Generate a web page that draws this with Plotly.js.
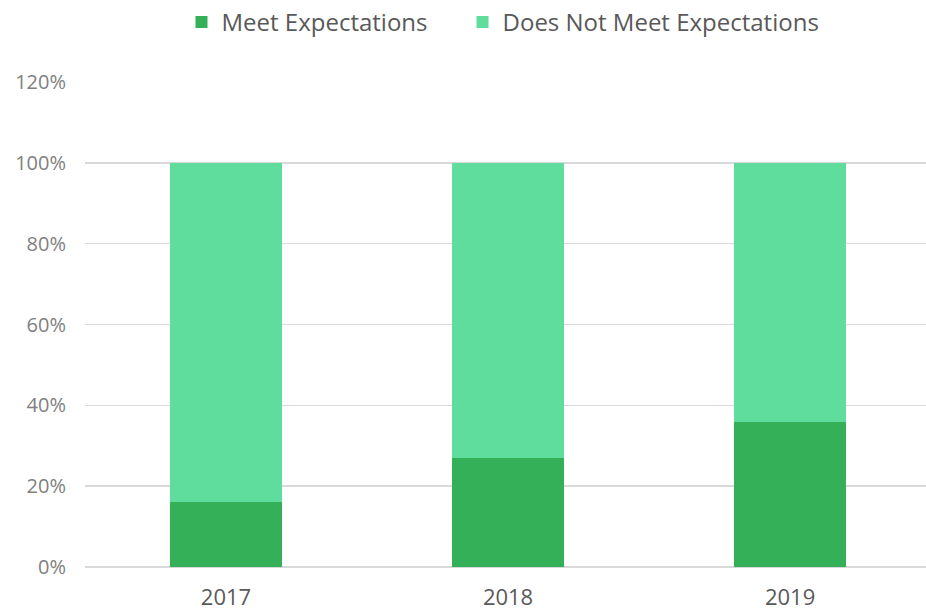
<!DOCTYPE html>
<html><head><meta charset="utf-8">
<script src="https://cdn.plot.ly/plotly-3.0.1.min.js"></script>
<style>html,body{margin:0;padding:0;background:#fff}#chart{width:926px;height:614px}</style>
</head><body><div id="chart"></div>
<script>
const years = ['2017', '2018', '2019'];
const meet = [0.16, 0.27, 0.36];
const notMeet = [0.84, 0.73, 0.64];
const yTicks = [0, 0.2, 0.4, 0.6, 0.8, 1.0, 1.2];
const yTickText = ['0%', '20%', '40%', '60%', '80%', '100%', '120%'];

const data = [
  {type:'bar', name:'Meet Expectations', x: years, y: meet, marker:{color:'#33b058'}, legend: 'legend'},
  {type:'bar', name:'Does Not Meet Expectations', x: years, y: notMeet, marker:{color:'#5fdd9d'}, legend: 'legend2'}
];
const legendBase = {orientation: 'h', xref: 'container', yref: 'container', xanchor: 'left', y: 1, yanchor: 'top',
                    font: {size: 24, color: '#595959'}, itemwidth: 30};
const layout = {
  width: 926, height: 614,
  margin: {l: 85, r: 0, t: 82, b: 47},
  barmode: 'stack', bargap: 0.6,
  paper_bgcolor: '#fff', plot_bgcolor: '#fff',
  font: {family: 'Open Sans, sans-serif', color: '#595959'},
  showlegend: true,
  legend: Object.assign({}, legendBase, {x: 0.196}),
  legend2: Object.assign({}, legendBase, {x: 0.4995}),
  xaxis: {type: 'category', range: [-0.5, 2.482], showgrid: false, zeroline: false, showline: false, ticks: '',
          tickfont: {size: 22, color: '#595959'}, ticklabelstandoff: 15},
  yaxis: {range: [0, 1.2], tickvals: yTicks, ticktext: yTickText, showgrid: true, gridcolor: '#d9d9d9', gridwidth: 1.5,
          zeroline: true, zerolinecolor: '#d9d9d9', zerolinewidth: 1.5, ticks: '', showline: false,
          tickfont: {size: 20, color: '#808080'}, ticklabelstandoff: 18}
};
Plotly.newPlot('chart', data, layout, {displayModeBar: false, staticPlot: true});
</script></body></html>
